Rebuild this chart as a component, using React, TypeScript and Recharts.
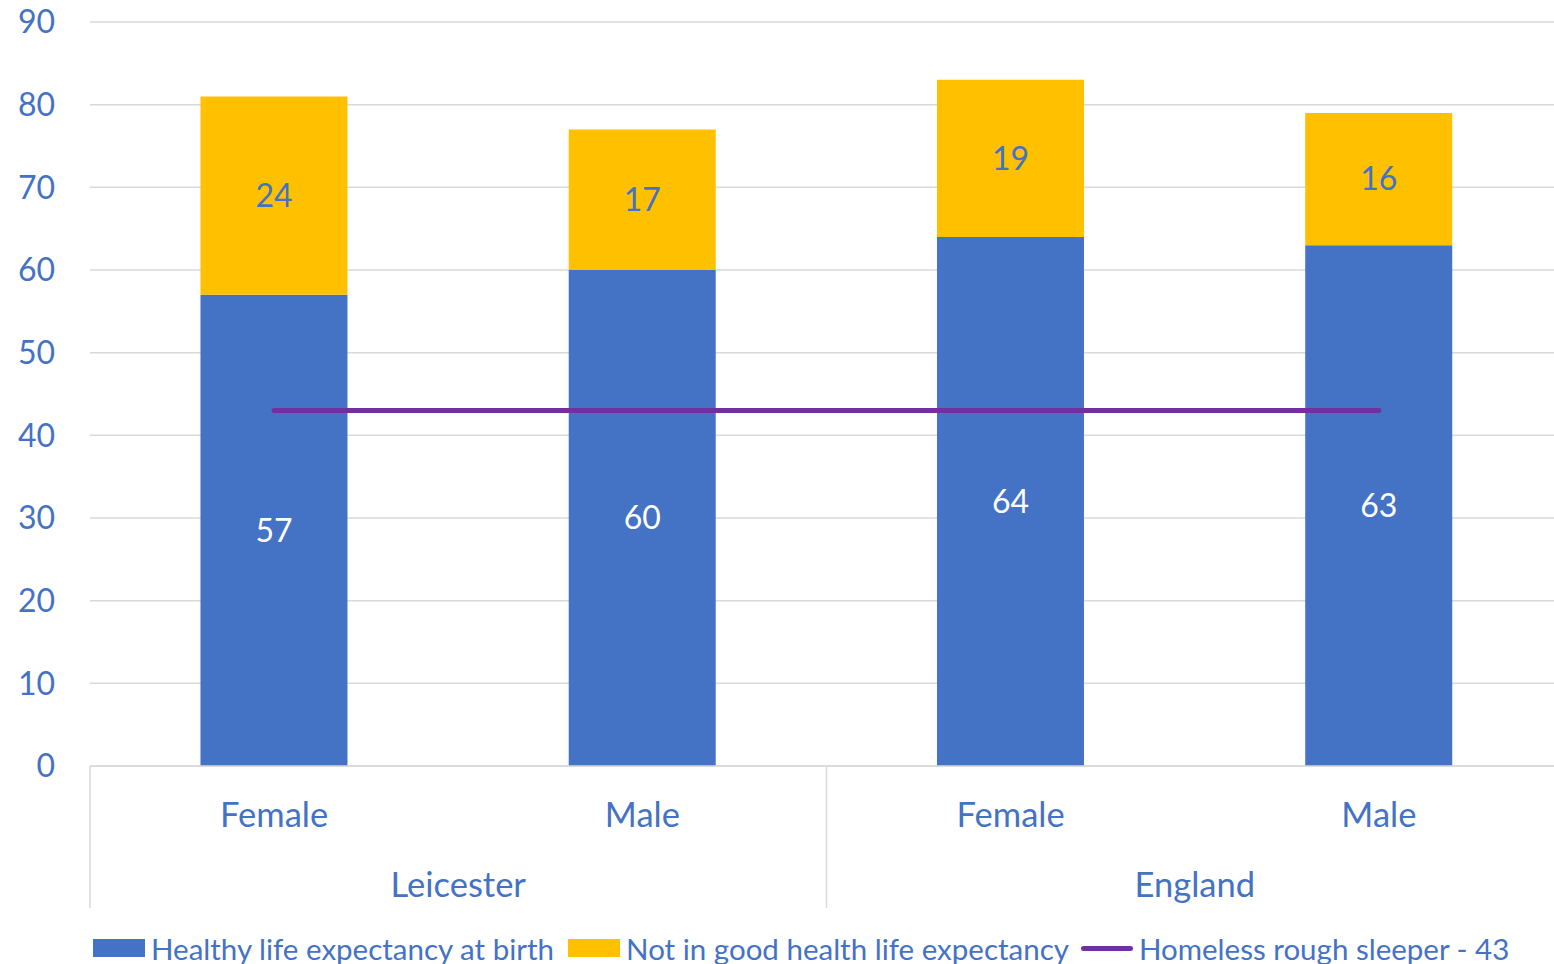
import React from 'react';
import { ComposedChart, Bar, Line, XAxis, YAxis, CartesianGrid, Legend, LabelList } from 'recharts';

const regions = ['Leicester', 'Leicester', 'England', 'England'];
const sexes = ['Female', 'Male', 'Female', 'Male'];
const healthyYears = [57, 60, 64, 63];
const notGoodYears = [24, 17, 19, 16];
const roughSleeperAge = [43, 43, 43, 43];
const yTicks = [0, 10, 20, 30, 40, 50, 60, 70, 80, 90];

const BLUE = '#4472C4';
const GOLD = '#FFC000';
const PURPLE = '#7030A0';
const GRID = '#D9D9D9';
const FONT = "Lato, 'Open Sans', sans-serif";

const data = sexes.map((sex, i) => ({
    sex,
    region: regions[i],
    healthy: healthyYears[i],
    notGood: notGoodYears[i],
    rough: roughSleeperAge[i]
}));

const SexTick = (props: any) => {
    const { x, y, payload } = props;
    return (
        <text x={x} y={y + 47} textAnchor="middle" dominantBaseline="central" fill={BLUE} fontSize={34.5} fontFamily={FONT}>
            {payload.value}
        </text>
    );
};

// region labels sit under each pair of bars, with separators at the group edges
const RegionTick = (props: any) => {
    const { x, y, payload, index, visibleTicksCount } = props;
    const half = payload.offset || 368;
    return (
        <g>
            <line x1={x - half} x2={x - half} y1={y - 70} y2={y + 72} stroke={GRID} strokeWidth={1.5} />
            {index === visibleTicksCount - 1 && (
                <line x1={x + half} x2={x + half} y1={y - 70} y2={y + 72} stroke={GRID} strokeWidth={1.5} />
            )}
            <text x={x} y={y + 47} textAnchor="middle" dominantBaseline="central" fill={BLUE} fontSize={34.5} fontFamily={FONT}>
                {payload.value}
            </text>
        </g>
    );
};

const LegendRow = () => {
    const text = { color: BLUE, fontSize: 29.5, fontFamily: FONT, whiteSpace: 'nowrap' as const };
    return (
        <div style={{ height: 56, boxSizing: 'border-box', paddingTop: 24, paddingLeft: 93, display: 'flex', alignItems: 'center' }}>
            <span style={{ width: 52, height: 18, background: BLUE, marginRight: 6 }} />
            <span style={text}>Healthy life expectancy at birth</span>
            <span style={{ width: 52, height: 18, background: GOLD, marginLeft: 14, marginRight: 6 }} />
            <span style={text}>Not in good health life expectancy</span>
            <span style={{ width: 52, height: 5, borderRadius: 3, background: PURPLE, marginLeft: 12, marginRight: 6 }} />
            <span style={text}>Homeless rough sleeper - 43</span>
        </div>
    );
};

const App = () => (
    <div style={{ position: 'absolute', left: 0, top: 0, width: 1554, height: 964, overflow: 'hidden', background: '#fff' }}>
        <ComposedChart
            width={1570}
            height={964}
            data={data}
            margin={{ top: 22, right: 7, bottom: 0, left: 0 }}
            barCategoryGap="30%"
        >
            <CartesianGrid vertical={false} stroke={GRID} strokeWidth={1.5} />
            <XAxis
                dataKey="sex"
                height={70}
                tickSize={0}
                tickMargin={0}
                tickLine={false}
                axisLine={{ stroke: GRID, strokeWidth: 1.5 }}
                tick={<SexTick />}
            />
            <XAxis
                xAxisId="region"
                dataKey="region"
                allowDuplicatedCategory={false}
                height={72}
                tickSize={0}
                tickMargin={0}
                tickLine={false}
                axisLine={false}
                tick={<RegionTick />}
            />
            <YAxis
                width={90}
                domain={[0, 90]}
                ticks={yTicks}
                axisLine={false}
                tickLine={false}
                tickSize={0}
                tickMargin={35}
                tick={{ fill: BLUE, fontSize: 32, fontFamily: FONT }}
            />
            <Bar dataKey="healthy" stackId="life" fill={BLUE} isAnimationActive={false}>
                <LabelList dataKey="healthy" position="center" fill="#ffffff" fontSize={32} fontFamily={FONT} />
            </Bar>
            <Bar dataKey="notGood" stackId="life" fill={GOLD} isAnimationActive={false}>
                <LabelList dataKey="notGood" position="center" fill={BLUE} fontSize={32} fontFamily={FONT} />
            </Bar>
            <Line
                type="linear"
                dataKey="rough"
                stroke={PURPLE}
                strokeWidth={5}
                strokeLinecap="round"
                dot={false}
                activeDot={false}
                isAnimationActive={false}
            />
            <Legend verticalAlign="bottom" align="left" height={56} content={() => <LegendRow />} wrapperStyle={{ left: 0, bottom: 0 }} />
        </ComposedChart>
    </div>
);

export default App;
